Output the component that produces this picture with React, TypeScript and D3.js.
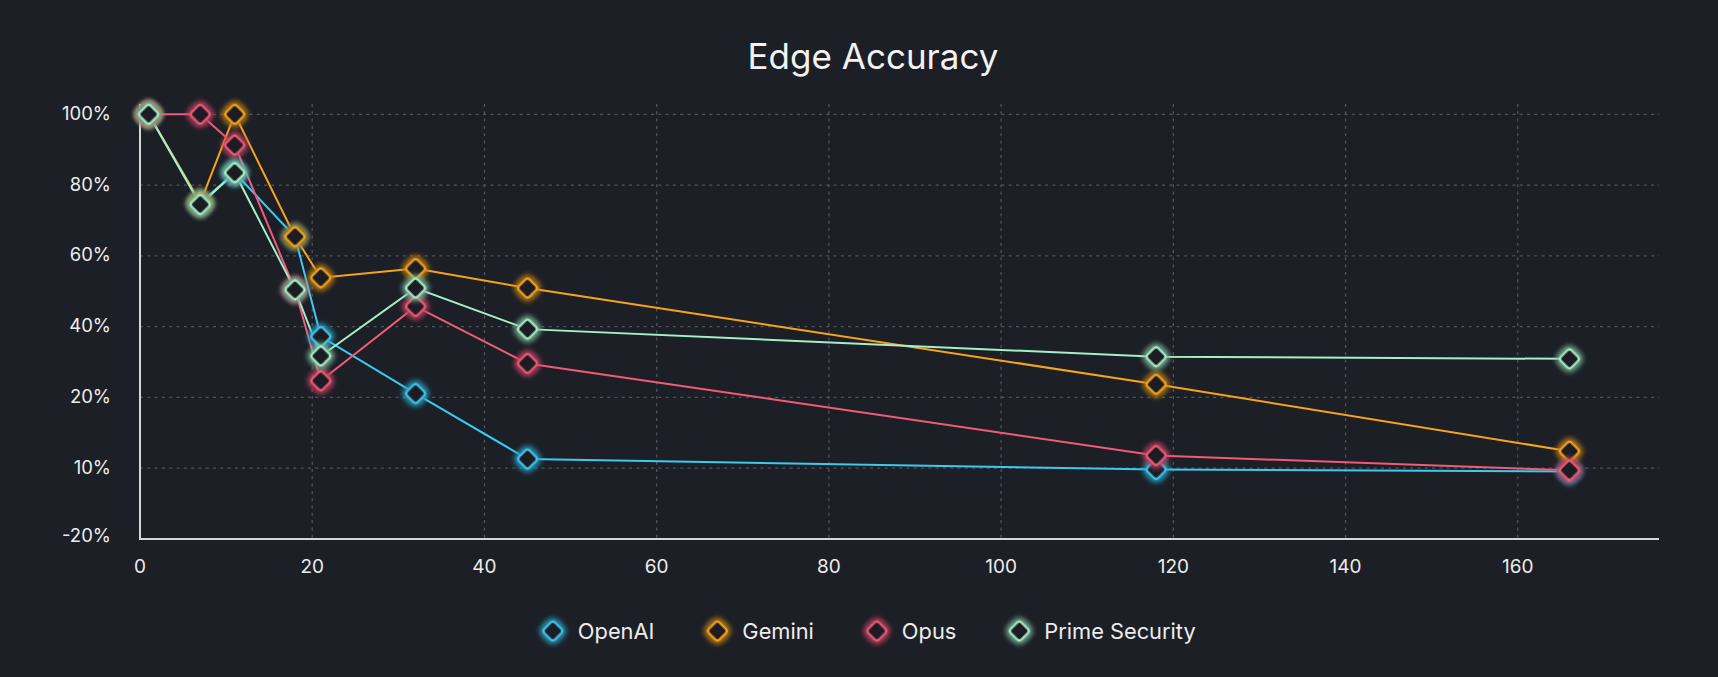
import React, { useEffect, useRef } from "react";
import * as d3 from "d3";

// ---- Data ----
const xValues = [1, 7, 11, 18, 21, 32, 45, 118, 166];
const openaiValues = [100, 75, 83.5, 65.4, 37.2, 21.1, 11.3, 9.45, 8.6];
const geminiValues = [100, 75, 100, 65.4, 53.8, 56.4, 50.9, 23.7, 12.4];
const opusValues = [100, 100, 91.3, 50.4, 24.7, 45.7, 29.6, 11.8, 9.1];
const primeValues = [100, 74.5, 83.5, 50.4, 31.7, 50.9, 39.3, 31.5, 30.9];

const seriesNames = ["OpenAI", "Gemini", "Opus", "Prime Security"];
const seriesColors = ["#3cc9f2", "#f7a41d", "#f25a7a", "#a6efc9"];

const xTicks = [0, 20, 40, 60, 80, 100, 120, 140, 160];
const yTicks = [-20, 10, 20, 40, 60, 80, 100];
const yTickLabels = ["-20%", "10%", "20%", "40%", "60%", "80%", "100%"];
const title = "Edge Accuracy";

// ---- Layout ----
const W = 1718;
const H = 677;
const BG = "#1c1f26";
const FONT = "Inter, 'Noto Sans', sans-serif";
const plotLeft = 140;
const plotRight = 1659;
const plotTop = 104;
const plotBottom = 539;

export default function App() {
  const ref = useRef<SVGSVGElement | null>(null);

  useEffect(() => {
    document.body.style.margin = "0";
    document.body.style.background = BG;
    const svg = d3.select(ref.current);
    svg.selectAll("*").remove();

    const x = d3.scaleLinear().domain([0, 176.4]).range([plotLeft, plotRight]);
    const step = (plotBottom - 114.3) / (yTicks.length - 1);
    const y = d3
      .scaleLinear()
      .domain(yTicks)
      .range(yTicks.map((_, i) => plotBottom - i * step));

    const defs = svg.append("defs");
    seriesColors.forEach((c, i) => {
      const f = defs
        .append("filter")
        .attr("id", `glow${i}`)
        .attr("x", "-100%")
        .attr("y", "-100%")
        .attr("width", "300%")
        .attr("height", "300%");
      f.append("feGaussianBlur").attr("in", "SourceGraphic").attr("stdDeviation", 3.5).attr("result", "b");
      const m = f.append("feMerge");
      m.append("feMergeNode").attr("in", "b");
      m.append("feMergeNode").attr("in", "b");
      m.append("feMergeNode").attr("in", "b");
      m.append("feMergeNode").attr("in", "SourceGraphic");
    });

    svg.append("rect").attr("width", W).attr("height", H).attr("fill", BG);

    // title
    svg
      .append("text")
      .attr("x", 873)
      .attr("y", 69)
      .attr("text-anchor", "middle")
      .attr("font-family", FONT)
      .attr("font-size", 35)
      .attr("fill", "#f2f2f2")
      .text(title);

    // grid
    const grid = svg.append("g");
    grid
      .selectAll("line.h")
      .data(yTicks.filter((t) => t !== -20))
      .join("line")
      .attr("x1", plotLeft)
      .attr("x2", plotRight)
      .attr("y1", (d) => y(d))
      .attr("y2", (d) => y(d))
      .attr("stroke", "#50545d")
      .attr("stroke-width", 1.3)
      .attr("stroke-dasharray", "3 4.3");
    grid
      .selectAll("line.v")
      .data(xTicks.filter((t) => t !== 0))
      .join("line")
      .attr("x1", (d) => x(d))
      .attr("x2", (d) => x(d))
      .attr("y1", plotTop)
      .attr("y2", plotBottom)
      .attr("stroke", "#50545d")
      .attr("stroke-width", 1.3)
      .attr("stroke-dasharray", "3 4.3");

    // axes
    svg
      .append("line")
      .attr("x1", plotLeft)
      .attr("x2", plotLeft)
      .attr("y1", plotTop)
      .attr("y2", plotBottom)
      .attr("stroke", "#d6d6d6")
      .attr("stroke-width", 2);
    svg
      .append("line")
      .attr("x1", plotLeft - 1)
      .attr("x2", plotRight)
      .attr("y1", plotBottom)
      .attr("y2", plotBottom)
      .attr("stroke", "#d6d6d6")
      .attr("stroke-width", 2);

    svg
      .append("g")
      .selectAll("text")
      .data(xTicks)
      .join("text")
      .attr("x", (d) => x(d))
      .attr("y", 573)
      .attr("text-anchor", "middle")
      .attr("font-family", FONT)
      .attr("font-size", 19)
      .attr("fill", "#ececec")
      .text((d) => String(d));

    svg
      .append("g")
      .selectAll("text")
      .data(yTicks)
      .join("text")
      .attr("x", 111)
      .attr("y", (d) => y(d) + (d === -20 ? 3 : 5.5))
      .attr("text-anchor", "end")
      .attr("font-family", FONT)
      .attr("font-size", 18.5)
      .attr("fill", "#ececec")
      .text((_, i) => yTickLabels[i]);

    const allSeries = [openaiValues, geminiValues, opusValues, primeValues];
    const line = d3
      .line<number>()
      .x((_, i) => x(xValues[i]))
      .y((d) => y(d));

    allSeries.forEach((vals, i) => {
      svg
        .append("path")
        .attr("d", line(vals) as string)
        .attr("fill", "none")
        .attr("stroke", seriesColors[i])
        .attr("stroke-width", 2);
    });

    const S = 15;
    const diamond = (g: any, cx: number, cy: number, i: number) => {
      g.append("rect")
        .attr("x", -S / 2)
        .attr("y", -S / 2)
        .attr("width", S)
        .attr("height", S)
        .attr("rx", 3)
        .attr("fill", "#1a1d23")
        .attr("stroke", seriesColors[i])
        .attr("stroke-width", 2)
        .attr("filter", `url(#glow${i})`)
        .attr("transform", `translate(${cx},${cy}) rotate(45)`);
    };

    allSeries.forEach((vals, i) => {
      const g = svg.append("g");
      vals.forEach((v, j) => diamond(g, x(xValues[j]), y(v), i));
    });

    // legend
    const legendY = 631;
    const lg = svg.append("g");
    const items = seriesNames.map((name, i) => {
      const g = lg.append("g");
      diamond(g, 10.5, legendY, i);
      const t = g
        .append("text")
        .attr("x", 35.5)
        .attr("y", legendY + 7.8)
        .attr("font-family", FONT)
        .attr("font-size", 21.8)
        .attr("fill", "#ececec")
        .text(name);
      const w = (t.node() as SVGTextElement).getComputedTextLength();
      return { g, w: 35.5 + w };
    });
    const gap = 52.5;
    const total = items.reduce((a, b) => a + b.w, 0) + gap * (items.length - 1);
    let cur = 869 - total / 2;
    items.forEach((it) => {
      it.g.attr("transform", `translate(${cur},0)`);
      cur += it.w + gap;
    });
  }, []);

  return <svg ref={ref} width={W} height={H} style={{ display: "block" }} />;
}
